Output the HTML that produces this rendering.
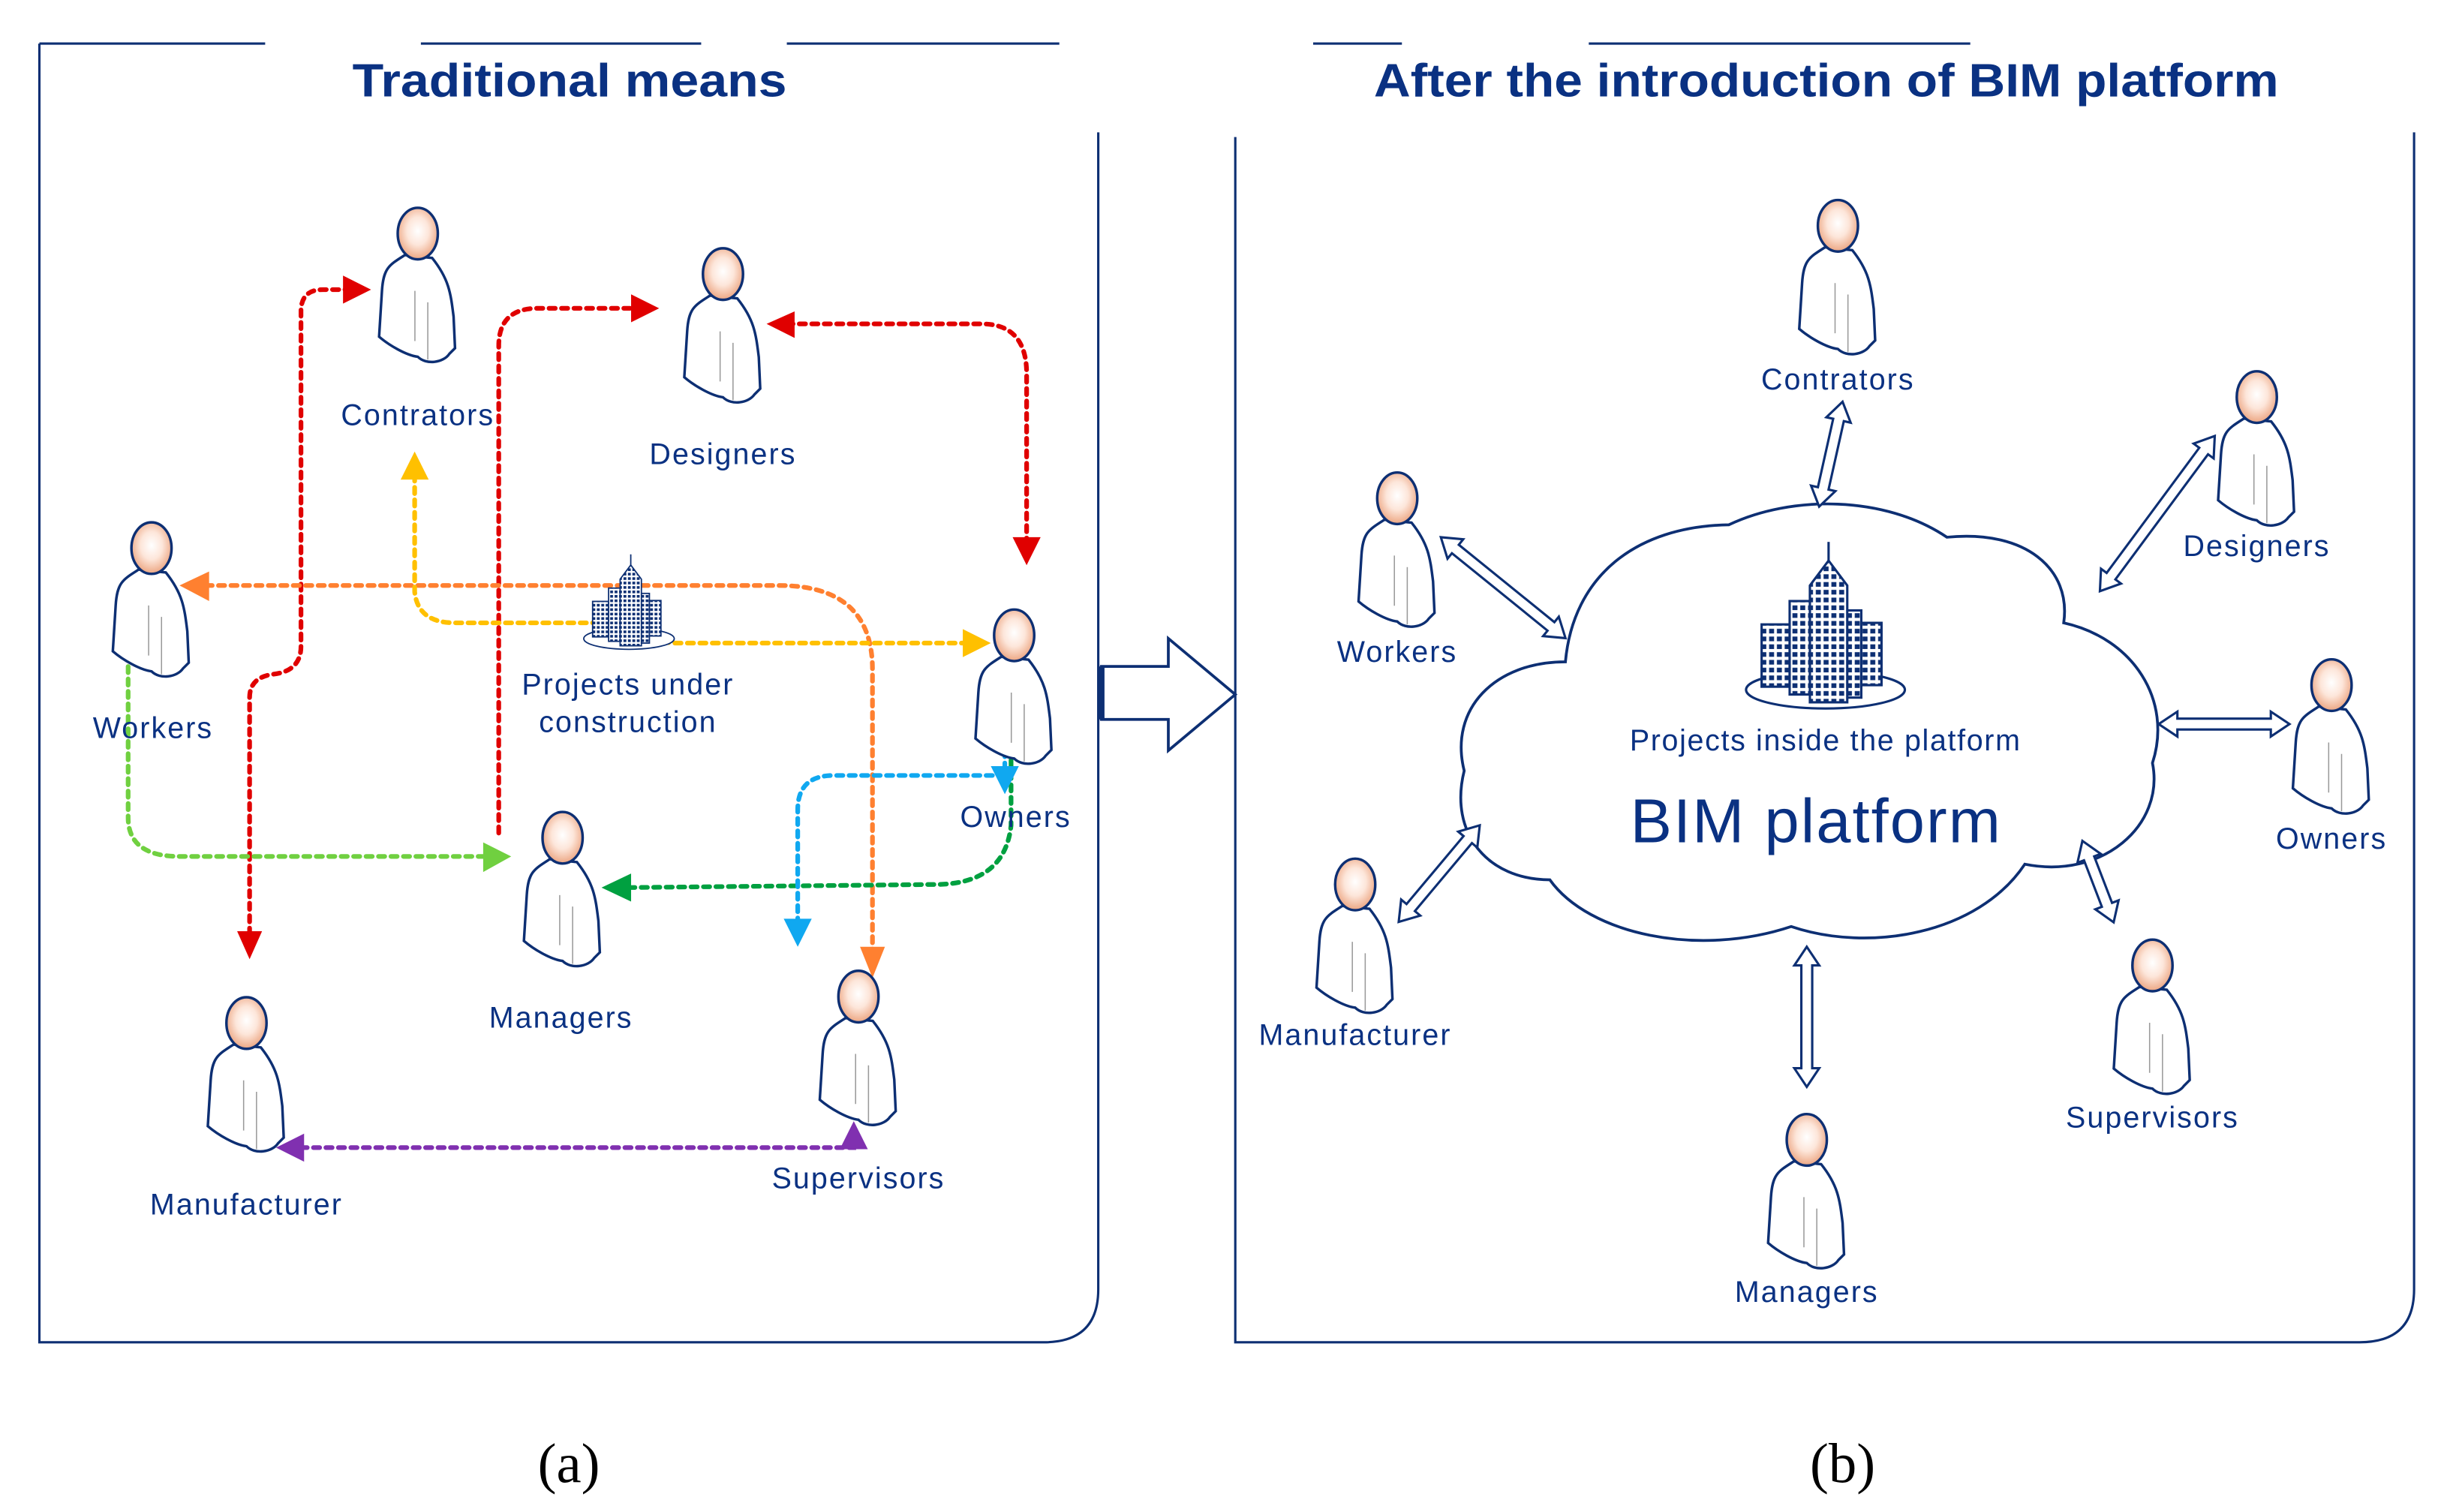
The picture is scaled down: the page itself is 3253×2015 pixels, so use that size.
<!DOCTYPE html>
<html><head><meta charset="utf-8"><style>
html,body{margin:0;padding:0;background:#fff;}
svg{display:block;}
text{font-family:"Liberation Sans",sans-serif;fill:#0a3182;}
</style></head><body>
<svg width="3253" height="2015" viewBox="0 0 1567 971" xmlns="http://www.w3.org/2000/svg">
<defs>
<radialGradient id="face" cx="0.5" cy="0.45" r="0.6">
<stop offset="0" stop-color="#fff"/><stop offset="0.45" stop-color="#fde6da"/><stop offset="1" stop-color="#e99a72"/>
</radialGradient>
<g id="p0">
<path d="M-9,15 C-20,22 -24,24 -25,40 L-27,72 C-20,78 -8,85 0,86 C6,92 18,90 22,84 L26,80 L25,58 C23,42 22,32 10,17 Z" fill="#fff" stroke="#0d2f73" stroke-width="1.8"/>
<path d="M-2,40 L-2,75 M7,48 L7,88" stroke="#999" stroke-width="0.8"/>
<ellipse cx="0" cy="0" rx="14" ry="18" fill="url(#face)" stroke="#0d2f73" stroke-width="1.8"/>
</g>
<g id="p"><use href="#p0" transform="scale(0.92)"/></g>
<pattern id="win" width="5" height="5" patternUnits="userSpaceOnUse"><rect width="5" height="5" fill="#fff"/><rect x="0.8" y="0.8" width="3.2" height="3" fill="#0d2f73"/></pattern>
<g id="bld" stroke="#0d2f73" stroke-width="1.5">
<ellipse cx="52" cy="95" rx="51" ry="12" fill="#fff"/>
<rect x="11" y="53" width="18" height="40" fill="url(#win)"/>
<rect x="29" y="38" width="14" height="60" fill="url(#win)"/>
<rect x="57" y="44" width="18" height="56" fill="url(#win)"/>
<rect x="75" y="52" width="13" height="40" fill="url(#win)"/>
<path d="M42,28 L54,12 L66,28 L66,103 L42,103 Z" fill="url(#win)"/>
<path d="M54,12 L54,0" fill="none"/>
</g>
</defs>

<g stroke="#0d2f73" stroke-width="1.5" fill="none">
<path d="M25,28 L170,28 M270,28 L450,28 M505,28 L680,28"/>
<path d="M25,28 L25,862 L670,862 Q705,862 705,828 L705,85"/>
<path d="M843,28 L900,28 M1020,28 L1265,28"/>
<path d="M793,88 L793,862 L1515,862 Q1550,862 1550,828 L1550,85"/>
<path d="M707,428 L750,428 L750,410 L793,446 L750,482 L750,462 L707,462 Z" stroke-width="1.8"/>
<path d="M707,428 L707,462" stroke-width="4"/>
</g>

<text x="226" y="62" font-size="30" font-weight="bold" textLength="279" lengthAdjust="spacingAndGlyphs" fill="#0d2b6b">Traditional means</text>
<text x="882" y="62" font-size="30" font-weight="bold" textLength="581" lengthAdjust="spacingAndGlyphs" fill="#0d2b6b">After the introduction of BIM platform</text>
<text x="365" y="952" font-size="36" text-anchor="middle" style="font-family:'Liberation Serif',serif;fill:#000">(a)</text>
<text x="1183" y="952" font-size="36" text-anchor="middle" style="font-family:'Liberation Serif',serif;fill:#000">(b)</text>

<g fill="none" stroke-width="3" stroke-dasharray="4 4" stroke-linecap="round">
<path d="M160,600 L160,448 Q160,435 175,433 Q193,431 193,415 L193,200 Q193,186 207,186 L225,186" stroke="#e00000"/>
<path d="M320,535 L320,222 Q320,198 345,198 L410,198" stroke="#e00000"/>
<path d="M505,208 L630,208 Q659,208 659,240 L659,350" stroke="#e00000"/>
<path d="M132,376 L500,376 Q560,376 560,430 L560,612" stroke="#ff8030"/>
<path d="M266,305 L266,380 Q268,400 292,400 L400,400 Q415,413 435,413 L622,413" stroke="#ffc000"/>
<path d="M82,412 L82,525 Q82,550 115,550 L315,550" stroke="#70d040"/>
<path d="M649,440 L649,530 Q645,568 600,568 L402,570" stroke="#00a040"/>
<path d="M645,482 L645,498 L535,498 Q512,498 512,520 L512,592" stroke="#10a8f0"/>
<path d="M193,737 L548,737 L548,728" stroke="#8030b0"/>
</g>
<g>
<path d="M152,598 L168,598 L160,616 Z" fill="#e00000"/>
<path d="M220,177 L220,195 L238,186 Z" fill="#e00000"/>
<path d="M405,189 L405,207 L423,198 Z" fill="#e00000"/>
<path d="M510,200 L510,217 L492,208 Z" fill="#e00000"/>
<path d="M650,345 L668,345 L659,363 Z" fill="#e00000"/>
<path d="M134,367 L134,386 L115,376 Z" fill="#ff8030"/>
<path d="M552,608 L568,608 L560,628 Z" fill="#ff8030"/>
<path d="M257,308 L275,308 L266,290 Z" fill="#ffc000"/>
<path d="M618,404 L618,422 L636,413 Z" fill="#ffc000"/>
<path d="M73,416 L91,416 L82,397 Z" fill="#70d040"/>
<path d="M310,541 L310,560 L328,550 Z" fill="#70d040"/>
<path d="M640,444 L658,444 L649,426 Z" fill="#00a040"/>
<path d="M405,561 L405,579 L386,570 Z" fill="#00a040"/>
<path d="M636,492 L654,492 L645,510 Z" fill="#10a8f0"/>
<path d="M503,590 L521,590 L512,608 Z" fill="#10a8f0"/>
<path d="M195,728 L195,746 L177,737 Z" fill="#8030b0"/>
<path d="M539,738 L557,738 L548,720 Z" fill="#8030b0"/>
</g>

<use href="#bld" transform="translate(374,356) scale(0.57)"/>

<use href="#p" x="268" y="150"/>
<use href="#p" x="464" y="176"/>
<use href="#p" x="97" y="352"/>
<use href="#p" x="651" y="408"/>
<use href="#p" x="361" y="538"/>
<use href="#p" x="158" y="657"/>
<use href="#p" x="551" y="640"/>
<g font-size="19" text-anchor="middle" letter-spacing="1">
<text x="268" y="273">Contrators</text>
<text x="464" y="298">Designers</text>
<text x="98" y="474">Workers</text>
<text x="652" y="531">Owners</text>
<text x="360" y="660">Managers</text>
<text x="158" y="780">Manufacturer</text>
<text x="551" y="763">Supervisors</text>
<text x="403" y="446">Projects under</text>
<text x="403" y="470">construction</text>
</g>

<path d="M1005,425 C1010,370 1050,338 1110,337 C1150,318 1210,318 1250,345 C1300,340 1330,365 1325,400 C1370,410 1395,450 1382,490 C1390,530 1350,565 1300,555 C1270,600 1200,612 1150,595 C1090,615 1020,600 995,565 C955,565 930,535 940,495 C930,455 960,425 1005,425 Z" fill="#fff" stroke="#0d2f73" stroke-width="1.8"/>
<use href="#bld" transform="translate(1120,348)"/>
<text x="1172" y="482" font-size="19" text-anchor="middle" letter-spacing="0.8">Projects inside the platform</text>
<text x="1166" y="541" font-size="40" text-anchor="middle" letter-spacing="1">BIM platform</text>

<g fill="#fff" stroke="#0d2f73" stroke-width="1.5">
<g transform="translate(1183,258) rotate(102.6)"><polygon points="0,0 12,-8 12,-3.5 57,-3.5 57,-8 69,0 57,8 57,3.5 12,3.5 12,8"/></g>
<g transform="translate(1422,280) rotate(126.5)"><polygon points="0,0 12,-8 12,-3.5 112,-3.5 112,-8 124,0 112,8 112,3.5 12,3.5 12,8"/></g>
<g transform="translate(925,345) rotate(39)"><polygon points="0,0 12,-8 12,-3.5 91,-3.5 91,-8 103,0 91,8 91,3.5 12,3.5 12,8"/></g>
<g transform="translate(1386,465)"><polygon points="0,0 12,-8 12,-3.5 72,-3.5 72,-8 84,0 72,8 72,3.5 12,3.5 12,8"/></g>
<g transform="translate(950,530) rotate(130)"><polygon points="0,0 12,-8 12,-3.5 69,-3.5 69,-8 81,0 69,8 69,3.5 12,3.5 12,8"/></g>
<g transform="translate(1337,540) rotate(69)"><polygon points="0,0 12,-8 12,-3.5 44,-3.5 44,-8 56,0 44,8 44,3.5 12,3.5 12,8"/></g>
<g transform="translate(1160,608) rotate(90)"><polygon points="0,0 12,-8 12,-3.5 78,-3.5 78,-8 90,0 78,8 78,3.5 12,3.5 12,8"/></g>
</g>

<use href="#p" x="1180" y="145"/>
<use href="#p" x="1449" y="255"/>
<use href="#p" x="897" y="320"/>
<use href="#p" x="1497" y="440"/>
<use href="#p" x="870" y="568"/>
<use href="#p" x="1382" y="620"/>
<use href="#p" x="1160" y="732"/>
<g font-size="19" text-anchor="middle" letter-spacing="1">
<text x="1180" y="250">Contrators</text>
<text x="1449" y="357">Designers</text>
<text x="897" y="425">Workers</text>
<text x="1497" y="545">Owners</text>
<text x="870" y="671">Manufacturer</text>
<text x="1382" y="724">Supervisors</text>
<text x="1160" y="836">Managers</text>
</g>
</svg>
</body></html>
